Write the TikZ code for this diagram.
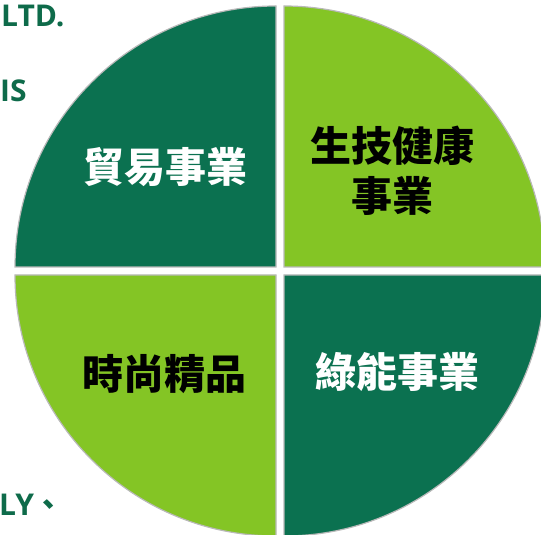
\documentclass[tikz,border=0pt]{standalone}
\usepackage{fontspec}
\usepackage{tikz}
\usetikzlibrary{positioning}
\newfontfamily\cjk{Noto Sans CJK TC}
\newfontfamily\latin{Open Sans}
\definecolor{deepgreen}{RGB}{11,113,80}
\definecolor{limegreen}{RGB}{132,197,37}
\definecolor{inkgreen}{RGB}{14,107,74}

\tikzset{
  quad/.style={draw=gray!55, line width=1.2pt},
  label/.style={font=\cjk\bfseries\fontsize{41}{50}\selectfont, align=center},
  edge/.style={font=\latin\bfseries\fontsize{30}{34}\selectfont, text=inkgreen, inner sep=0pt}
}

\begin{document}
\begin{tikzpicture}[x=1pt,y=1pt]
\useasboundingbox (0,0) rectangle (541,535);
\clip (0,0) rectangle (541,535);
% four quarters
\foreach \a/\col/\dx/\dy in {90/deepgreen/-4/4, 0/limegreen/4/4, 270/deepgreen/4/-4, 180/limegreen/-4/-4}
  \draw[quad, fill=\col, shift={(\dx,\dy)}] (280,264) -- ++(\a:261) arc (\a:\a+90:261) -- cycle;
% labels
\node[label, text=white] (trade) at (165,367.5) {貿易事業};
\node[label, text=black] (bio) at (392,364) {生技健康\\事業};
\node[label, text=black] (fashion) at (164,161) {時尚精品};
\node[label, text=white] (green) at (397,163) {綠能事業};
% side text
\node[edge, anchor=west] (ltd) at (1,519) {LTD.};
\node[edge, anchor=west] (is) at (0,444) {IS};
\node[edge, anchor=west] (ly) at (-1,30) {LY{\cjk 、}};
\end{tikzpicture}
\end{document}
